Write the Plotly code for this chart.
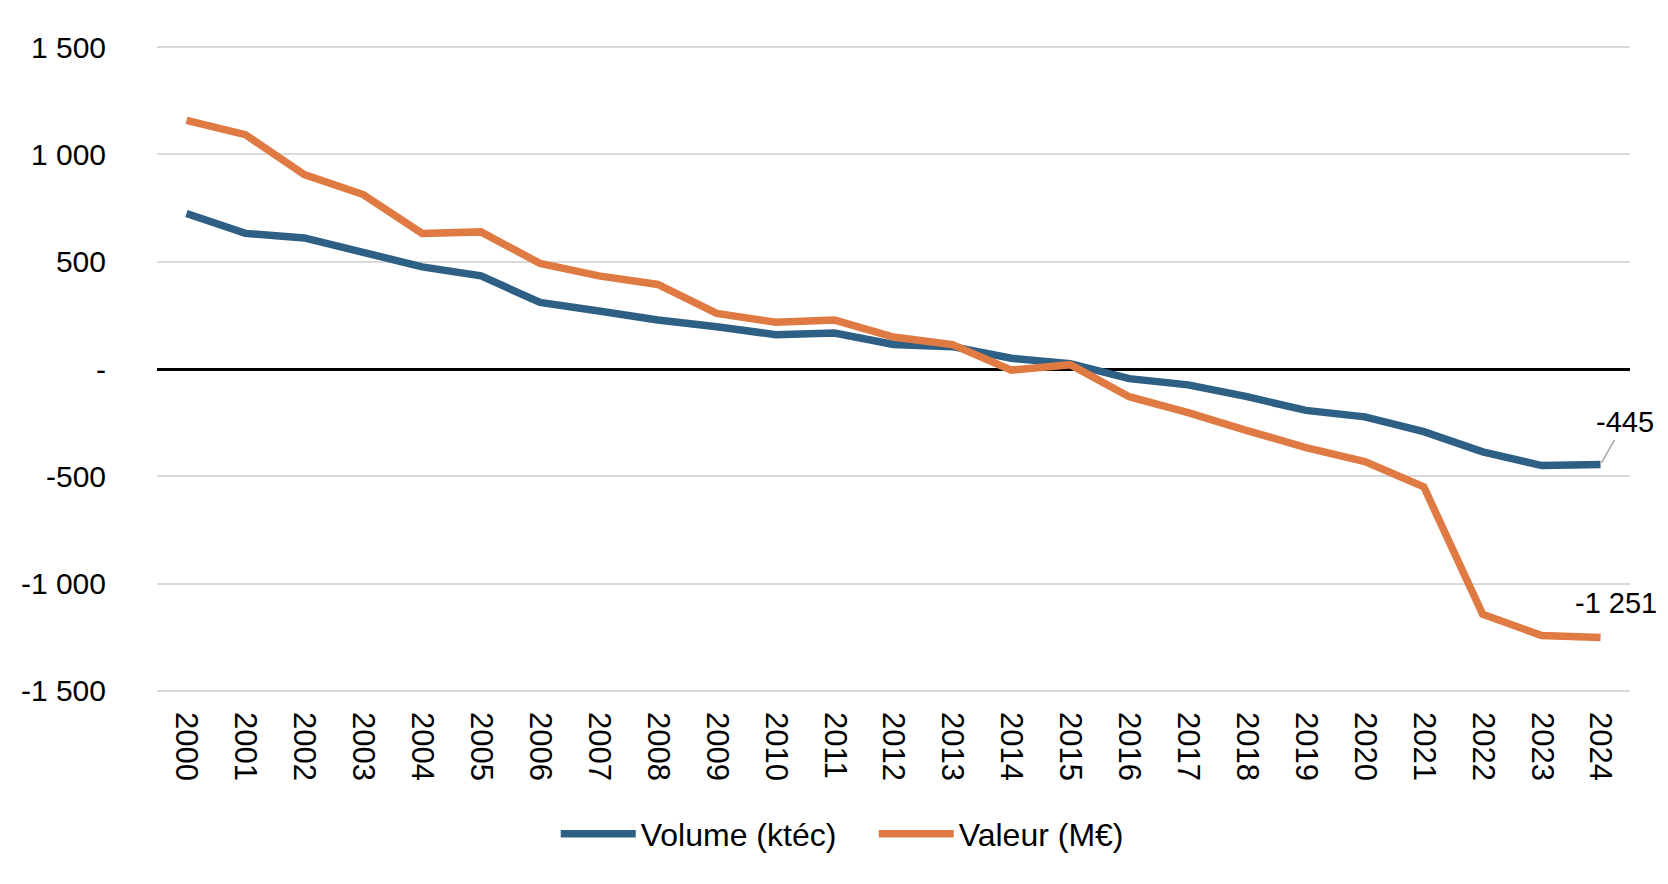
import plotly.graph_objects as go

years = [str(y) for y in range(2000, 2025)]
volume = [725, 632, 611, 543, 476, 434, 310, 270, 228, 197, 160, 168, 114, 104, 50, 25,
          -45, -74, -129, -193, -223, -292, -386, -450, -445]
valeur = [1159, 1092, 906, 813, 632, 639, 492, 434, 394, 259, 218, 228, 149, 114, -5, 20,
          -129, -203, -287, -366, -431, -549, -1143, -1242, -1251]
ytick_vals = [1500, 1000, 500, 0, -500, -1000, -1500]
ytick_text = ["1 500", "1 000", "500", "-", "-500", "-1 000", "-1 500"]

BLUE = "#2E5F84"
ORANGE = "#E07A43"
FONT = "Liberation Sans"

fig = go.Figure()
fig.add_trace(go.Scatter(x=years, y=volume, mode="lines", name="Volume (ktéc)",
                         line=dict(color=BLUE, width=7.5)))
fig.add_trace(go.Scatter(x=years, y=valeur, mode="lines", name="Valeur (M€)",
                         line=dict(color=ORANGE, width=7.5)))

last = len(years) - 1
fig.add_annotation(x=last, y=volume[-1], text="-445", showarrow=True,
                   arrowhead=0, arrowwidth=1.5, arrowcolor="#A6A6A6", standoff=2,
                   ax=24, ay=-42, font=dict(family=FONT, size=29, color="black"))
fig.add_annotation(x=last, y=valeur[-1], text="-1 251", showarrow=False,
                   xshift=15, yshift=34, font=dict(family=FONT, size=29, color="black"))

fig.update_layout(
    width=1668, height=884,
    margin=dict(l=157, r=38, t=45, b=191),
    paper_bgcolor="white", plot_bgcolor="white",
    font=dict(family=FONT, size=28, color="black"),
    legend=dict(orientation="h", x=0.2707, xanchor="left", y=-0.2175, yanchor="middle",
                font=dict(family=FONT, size=32), itemwidth=75,
                entrywidth=228, entrywidthmode="pixels"),
    showlegend=True,
)
fig.update_xaxes(type="category", range=[-0.5, 24.5], tickangle=90, showgrid=False,
                 showline=False, ticks="", tickfont=dict(size=31), ticklabelstandoff=18)
fig.update_yaxes(range=[-1510, 1510], tickvals=ytick_vals, ticktext=ytick_text,
                 showgrid=True, gridcolor="#D9D9D9", gridwidth=2,
                 zeroline=True, zerolinecolor="black", zerolinewidth=3,
                 showline=False, ticks="", tickfont=dict(size=30), ticklabelstandoff=50)

fig.write_html("out.html")
